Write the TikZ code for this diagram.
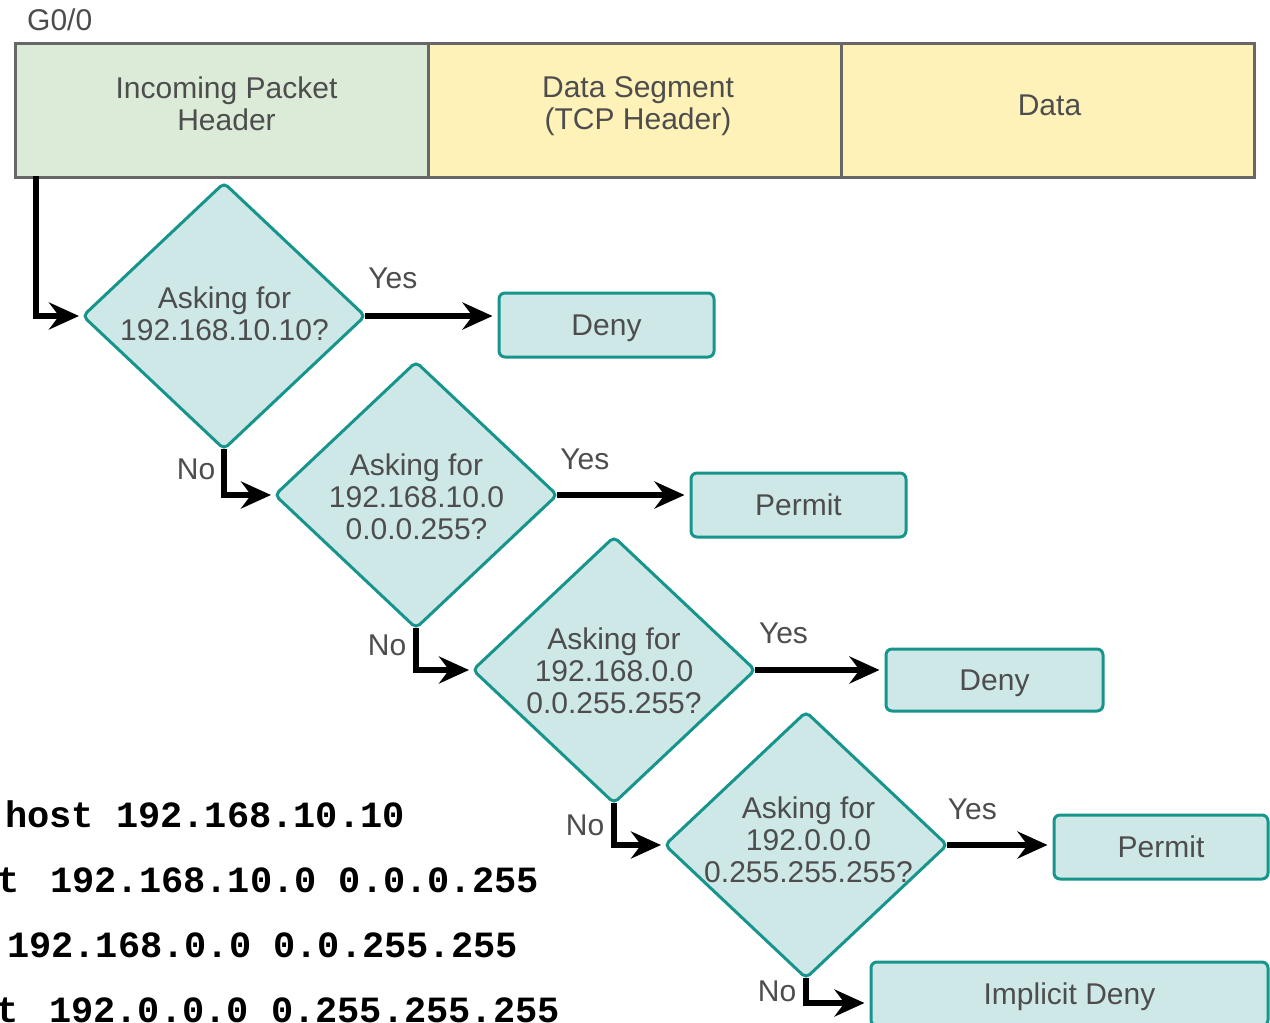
\documentclass[tikz,border=0pt]{standalone}
\usepackage{fontspec}
\setmainfont{Liberation Sans}
\setmonofont{Liberation Mono}
\usetikzlibrary{shapes.geometric,arrows.meta}
\definecolor{tealline}{HTML}{17948C}
\definecolor{tealfill}{HTML}{CDE8E6}
\definecolor{greenfill}{HTML}{DCEBD8}
\definecolor{yellowfill}{HTML}{FFF2B8}
\definecolor{barline}{HTML}{676767}
\definecolor{txt}{HTML}{4D4D4D}
\newcommand\dgfont{\fontsize{30}{32}\selectfont}
\begin{document}
\begin{tikzpicture}[x=1pt,y=-1pt,
  cell/.style={draw=barline, line width=3pt, minimum width=413pt, minimum height=134pt, inner sep=0pt, anchor=north west},
  ctext/.style={font=\dgfont, text=txt, align=center, inner sep=0pt},
  decision/.style={diamond, draw=tealline, fill=tealfill, line width=3pt, minimum width=282pt, minimum height=266pt, inner sep=0pt, outer sep=0pt, rounded corners=5pt},
  action/.style={draw=tealline, fill=tealfill, line width=3pt, rounded corners=6pt, inner sep=0pt, text depth=0pt, font=\dgfont, text=txt},
  lbl/.style={font=\dgfont, text=txt, inner sep=0pt},
  arr/.style={line width=5.5pt, -{Stealth[length=30pt,width=27pt,inset=10pt]}, shorten >=5pt},
  code/.style={font=\ttfamily\bfseries\fontsize{37}{44}\selectfont, inner sep=0pt, anchor=base east}
]
\useasboundingbox (0,0) rectangle (1270,1023);
\fill[white] (0,0) rectangle (1270,1023);

% header bar
\node[lbl, anchor=west] (port) at (27,20) {G0/0};
\node[cell, fill=greenfill] (c1) at (14,42) {};
\node[cell, fill=yellowfill] (c2) at (427,42) {};
\node[cell, fill=yellowfill] (c3) at (840,42) {};
\node[ctext] (t1) at (226.5,103.5) {Incoming Packet\\Header};
\node[ctext] (t2) at (638,106) {Data Segment\\(TCP Header)};
\node[ctext] (t3) at (1049.5,105) {Data};

% decisions
\node[decision] (d1) at (224,316) {};
\node[ctext] (q1) at (224.5,314) {Asking for\\192.168.10.10?};
\node[decision] (d2) at (416,495) {};
\node[ctext] (q2) at (416.5,497) {Asking for\\192.168.10.0\\0.0.0.255?};
\node[decision] (d3) at (614,670) {};
\node[ctext] (q3) at (614,671) {Asking for\\192.168.0.0\\0.0.255.255?};
\node[decision] (d4) at (806,845) {};
\node[ctext] (q4) at (808.5,840) {Asking for\\192.0.0.0\\0.255.255.255?};

% actions
\node[action, minimum width=215pt, minimum height=64pt] (b1) at (606.5,325) {Deny};
\node[action, minimum width=215pt, minimum height=64pt] (b2) at (798.5,505) {Permit};
\node[action, minimum width=217pt, minimum height=62pt] (b3) at (994.5,680) {Deny};
\node[action, minimum width=214pt, minimum height=64pt] (b4) at (1161,847) {Permit};
\node[action, minimum width=397pt, minimum height=64pt] (b5) at (1069.5,994) {Implicit Deny};

% connectors
\coordinate (entry) at (36,176);
\draw[arr, shorten >=4pt] (entry) |- (d1.west);

\draw[arr] (d1.east) -- node[lbl, pos=0.21, yshift=38pt] {Yes} (d1.east -| b1.west);
\draw[arr] (d2.east) -- node[lbl, pos=0.21, yshift=36pt] {Yes} (d2.east -| b2.west);
\draw[arr] (d3.east) -- node[lbl, pos=0.22, yshift=37pt] {Yes} (d3.east -| b3.west);
\draw[arr] (d4.east) -- node[lbl, pos=0.24, yshift=36pt] {Yes} (d4.east -| b4.west);

\draw[arr, shorten >=4pt] (d1.south) |- node[lbl, pos=0.22, left=6pt] {No} (d2.west);
\draw[arr, shorten >=4pt] (d2.south) |- node[lbl, pos=0.21, left=7pt] {No} (d3.west);
\draw[arr, shorten >=4pt] (d3.south) |- node[lbl, pos=0.27, left=7pt] {No} (d4.west);
\coordinate (exit4) at (d4.south |- 0,1003);
\draw[arr] (d4.south) |- node[lbl, pos=0.27, left=7pt] {No} (exit4 -| b5.west);

% ACL lines
\node[code] (acl1) at (405,827) {host 192.168.10.10};
\node[code] (acl2) at (539,892) {\kern-8pt t\kern8pt{} 192.168.10.0 0.0.0.255};
\node[code] (acl3) at (518,957) {192.168.0.0 0.0.255.255};
\node[code] (acl4) at (560,1022) {\kern-8pt t\kern8pt{} 192.0.0.0 0.255.255.255};
\end{tikzpicture}
\end{document}
